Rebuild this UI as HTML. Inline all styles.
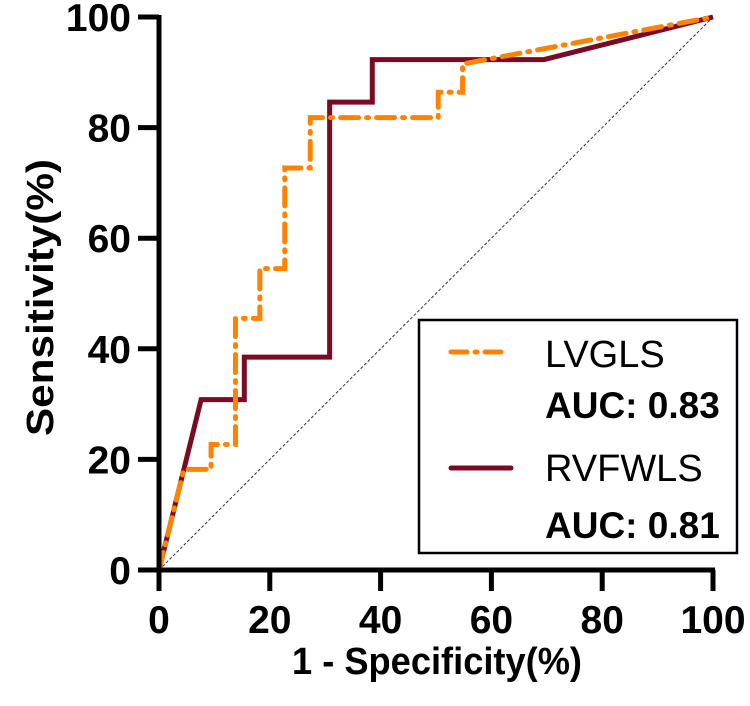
<!DOCTYPE html>
<html><head><meta charset="utf-8"><style>
html,body{margin:0;padding:0;background:#fff;}
svg{display:block;font-family:"Liberation Sans",Arial,sans-serif;}
</style></head><body>
<svg id="chart" width="750" height="706" viewBox="0 0 750 706" xmlns="http://www.w3.org/2000/svg">
<g id="plot"></g>
<text x="292" y="674" textLength="290" lengthAdjust="spacingAndGlyphs" style="font-size:38px;font-weight:bold">1 - Specificity(%)</text>
<text transform="translate(53,436) rotate(-90)" textLength="277" lengthAdjust="spacingAndGlyphs" style="font-size:38px;font-weight:bold">Sensitivity(%)</text>
<g>
<rect x="419" y="320" width="318" height="233" fill="#fff" stroke="#000" stroke-width="2.5"/>
<line x1="451" y1="352" x2="509" y2="352" stroke="#ff8200" stroke-width="5" stroke-dasharray="16,8,2,8" stroke-linecap="round"/>
<text x="545" y="367" style="font-size:38px">LVGLS</text>
<text x="545" y="418" style="font-size:37px;font-weight:bold">AUC: 0.83</text>
<line x1="451" y1="468" x2="511" y2="468" stroke="#7b0a24" stroke-width="5" stroke-linecap="round"/>
<text x="545" y="481" style="font-size:38px">RVFWLS</text>
<text x="545" y="538" style="font-size:37px;font-weight:bold">AUC: 0.81</text>
</g>
</svg>
<script>
const ticks = [0, 20, 40, 60, 80, 100];
const lvglsX = [0, 4.5, 9.4, 9.4, 13.8, 13.8, 18.2, 18.2, 22.7, 22.7, 27.3, 27.3, 50.4, 50.4, 54.8, 54.8, 100];
const lvglsY = [0, 18.2, 18.2, 22.7, 22.7, 45.5, 45.5, 54.5, 54.5, 72.7, 72.7, 81.8, 81.8, 86.4, 86.4, 91.5, 100];
const rvX = [0, 7.6, 15.4, 15.4, 30.8, 30.8, 38.5, 38.5, 69.5, 100];
const rvY = [0, 30.8, 30.8, 38.5, 38.5, 84.6, 84.6, 92.3, 92.3, 100];

const NS = "http://www.w3.org/2000/svg";
const X0 = 159, X1 = 713, Y0 = 570, Y1 = 17;
function sx(v){ return X0 + (X1 - X0) * v / 100; }
function sy(v){ return Y0 - (Y0 - Y1) * v / 100; }
const g = document.getElementById('plot');
function mk(tag, attrs){ const e = document.createElementNS(NS, tag); for (const k in attrs) e.setAttribute(k, attrs[k]); g.appendChild(e); return e; }

const diag = mk('line', {x1: sx(0), y1: sy(0), x2: sx(100), y2: sy(100), stroke: '#333', 'stroke-width': 1, 'stroke-dasharray': '3,2'});



function pts(xs, ys){ return xs.map((x, i) => sx(x) + ',' + sy(ys[i])).join(' '); }
const rv = mk('polyline', {points: pts(rvX, rvY), fill: 'none', stroke: '#7b0a24', 'stroke-width': 5, 'stroke-linejoin': 'miter'});


const lv = mk('polyline', {points: pts(lvglsX, lvglsY), fill: 'none', stroke: '#ff8200', 'stroke-width': 5, 'stroke-dasharray': '18,8,2,8', 'stroke-linecap': 'round'});



const xa = mk('line', {x1: X0 - 2, y1: Y0, x2: X1 + 2, y2: Y0, stroke: '#000', 'stroke-width': 5});


const ya = mk('line', {x1: X0, y1: Y0 + 2, x2: X0, y2: Y1 - 2, stroke: '#000', 'stroke-width': 5});



ticks.forEach(t => {
  const tx = mk('line', {x1: sx(t), y1: Y0, x2: sx(t), y2: Y0 + 21, stroke: '#000', 'stroke-width': 5});
  
  
  const lx = mk('text', {x: sx(t), y: 633, 'text-anchor': 'middle', style: 'font-size:39px;font-weight:bold'});
  lx.textContent = t;
  
  
  const ty = mk('line', {x1: X0 - 21, y1: sy(t), x2: X0, y2: sy(t), stroke: '#000', 'stroke-width': 5});
  
  
  const ly = mk('text', {x: 131, y: sy(t) + 14, 'text-anchor': 'end', style: 'font-size:39px;font-weight:bold'});
  ly.textContent = t;
  
  
});
</script>
</body></html>
